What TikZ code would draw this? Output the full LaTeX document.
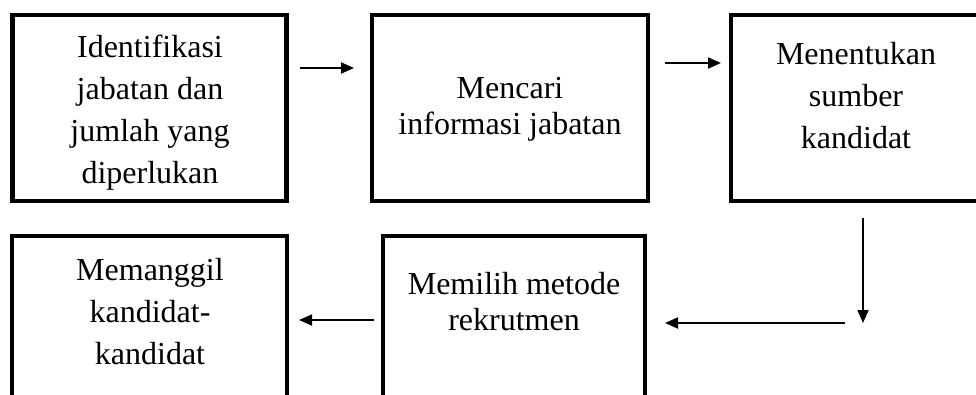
\documentclass[tikz,border=0pt]{standalone}
\usepackage{fontspec}
\setmainfont{Liberation Serif}
\usetikzlibrary{arrows.meta}

\tikzset{
  stepbox/.style={draw, line width=4.8pt, rectangle, inner sep=0pt},
  steptext/.style={align=center, inner sep=0pt, font=\fontsize{32}{42}\selectfont},
  singletext/.style={align=center, inner sep=0pt, font=\fontsize{32}{36}\selectfont},
  flow/.style={line width=1.8pt, -{Triangle[length=13pt,width=11pt]}}
}

\begin{document}
\begin{tikzpicture}[x=1pt,y=-1pt]
  \useasboundingbox (0,0) rectangle (976,394);
  \clip (0,0) rectangle (976,394);

  % top row; the third box runs past the right edge
  \node[stepbox, minimum width=274pt, minimum height=186pt] (b1) at (149.5,108) {};
  \node[stepbox, minimum width=276pt, minimum height=186pt] (b2) at (510,108) {};
  \node[stepbox, minimum width=300pt, minimum height=186pt] (b3) at (881,108) {};

  \node[steptext] (t1) at (150,113) {Identifikasi\\jabatan dan\\jumlah yang\\diperlukan};
  \node[singletext] (t2) at (510,109) {Mencari\\informasi jabatan};
  \node[steptext] (t3) at (856,95.5) {Menentukan\\sumber\\kandidat};

  % bottom row, running past the lower edge
  \node[stepbox, minimum width=275pt, minimum height=200pt] (b4) at (149.5,336) {};
  \node[stepbox, minimum width=262pt, minimum height=200pt] (b5) at (514,336) {};

  \node[steptext] (t4) at (150,312) {Memanggil\\kandidat-\\kandidat};
  \node[singletext] (t5) at (514,302) {Memilih metode\\rekrutmen};

  % connector end points
  \coordinate (a1s) at (300,68);
  \coordinate (a1e) at (354,68);
  \coordinate (a2s) at (665,63);
  \coordinate (a2e) at (721,63);
  \coordinate (a3s) at (863,218);
  \coordinate (a3e) at (863,323);
  \coordinate (a4s) at (845,323);
  \coordinate (a4e) at (665,323);
  \coordinate (a5s) at (374,320);
  \coordinate (a5e) at (299,320);

  \draw[flow] (a1s) -- (a1e);
  \draw[flow] (a2s) -- (a2e);
  \draw[flow] (a3s) -- (a3e);
  \draw[flow] (a4s) -- (a4e);
  \draw[flow] (a5s) -- (a5e);
\end{tikzpicture}
\end{document}
